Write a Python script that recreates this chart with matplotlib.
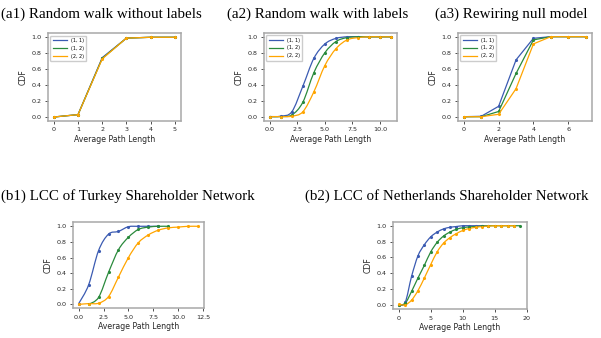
import matplotlib
matplotlib.use("Agg")
import matplotlib.pyplot as plt
from matplotlib.path import Path
from matplotlib.patches import PathPatch
from matplotlib.lines import Line2D
import numpy as np

#---------------- datos ------------
etiquetas = ["(1, 1)", "(1, 2)", "(2, 2)"]
colores = ["#3b5bb2", "#2a8a3c", "#ffa500"]

titulos = ["(a1) Random walk without labels", "(a2) Random walk with labels",
           "(a3) Rewiring null model", "(b1) LCC of Turkey Shareholder Network",
           "(b2) LCC of Netherlands Shareholder Network"]

# (a1) random walk sin etiquetas
a1_x = [0, 1, 2, 3, 4, 5]
a1_11 = [0.0, 0.03, 0.745, 0.99, 1.0, 1.0]
a1_12 = [0.0, 0.03, 0.735, 0.99, 1.0, 1.0]
a1_22 = [0.0, 0.03, 0.73, 0.99, 1.0, 1.0]

# (a2) random walk con etiquetas
a2_x = [0, 1, 2, 3, 4, 5, 6, 7, 8, 9, 10, 11]
a2_11 = [0.0, 0.005, 0.06, 0.38, 0.73, 0.91, 0.98, 1.0, 1.0, 1.0, 1.0, 1.0]
a2_12 = [0.0, 0.0, 0.02, 0.18, 0.55, 0.80, 0.94, 0.99, 1.0, 1.0, 1.0, 1.0]
a2_22 = [0.0, 0.0, 0.005, 0.06, 0.31, 0.64, 0.85, 0.96, 0.99, 1.0, 1.0, 1.0]

# (a3) rewiring
a3_x = [0, 1, 2, 3, 4, 5, 6, 7]
a3_11 = [0.0, 0.005, 0.13, 0.71, 0.98, 1.0, 1.0, 1.0]
a3_12 = [0.0, 0.0, 0.065, 0.54, 0.96, 1.0, 1.0, 1.0]
a3_22 = [0.0, 0.0, 0.03, 0.35, 0.91, 1.0, 1.0, 1.0]

# (b1) Turquia
b1_x11 = [0, 1, 2, 3, 4, 5, 6, 7, 8]
b1_11 = [0.01, 0.25, 0.69, 0.90, 0.935, 0.995, 1.0, 1.0, 1.0]
b1_x12 = [1, 2, 3, 4, 5, 6, 7, 8, 9]
b1_12 = [0.0, 0.09, 0.41, 0.70, 0.86, 0.96, 0.99, 1.0, 1.0]
b1_x22 = [0, 1, 2, 3, 4, 5, 6, 7, 8, 9, 10, 11, 12]
b1_22 = [0.0, 0.01, 0.015, 0.10, 0.35, 0.60, 0.79, 0.89, 0.95, 0.98, 0.99, 1.0, 1.0]

# (b2) Paises Bajos
b2_x11 = list(range(0, 15))
b2_11 = [0.0, 0.03, 0.36, 0.62, 0.76, 0.86, 0.92, 0.96, 0.98, 0.99, 1.0, 1.0, 1.0, 1.0, 1.0]
b2_x12 = list(range(0, 20))
b2_12 = [0.0, 0.02, 0.17, 0.34, 0.50, 0.67, 0.79, 0.87, 0.92, 0.955, 0.975, 0.985, 0.99,
         0.995, 1.0, 1.0, 1.0, 1.0, 1.0, 1.0]
b2_x22 = list(range(0, 19))
b2_22 = [0.01, 0.0, 0.06, 0.18, 0.34, 0.51, 0.67, 0.78, 0.85, 0.90, 0.94, 0.965, 0.98,
         0.99, 0.995, 1.0, 1.0, 1.0, 1.0]

plt.rcParams['font.family'] = ['DejaVu Sans']


#---------------- funciones ------------
def curva_suave(ax, x, y, color):
    # curva Catmull-Rom dibujada como bezier a traves de los puntos
    p = np.column_stack([x, y]).astype(float)
    n = len(p)
    verts = [p[0]]
    codes = [Path.MOVETO]
    for i in range(n - 1):
        p0 = p[i - 1] if i > 0 else p[i]
        p3 = p[i + 2] if i + 2 < n else p[i + 1]
        c1 = p[i] + (p[i + 1] - p0) / 6.0
        c2 = p[i + 1] - (p3 - p[i]) / 6.0
        verts += [c1, c2, p[i + 1]]
        codes += [Path.CURVE4] * 3
    patch = PathPatch(Path(verts, codes), facecolor="none", edgecolor=color, lw=0.9)
    ax.add_patch(patch)
    ax.plot(x, y, linestyle="none", marker=".", markersize=2.5, color=color)


def estilo(ax):
    for s in ax.spines.values():
        s.set_color("#a8a8a8")
        s.set_linewidth(1.1)
    ax.tick_params(labelsize=4.6, length=2.5, width=0.6, color="#333333",
                   labelcolor="#262626", pad=2)
    ax.set_xlabel("Average Path Length", fontsize=5.6, labelpad=2, color="#262626")
    ax.set_ylabel("CDF", fontsize=5.6, labelpad=3, color="#262626")
    ax.set_yticks([0.0, 0.2, 0.4, 0.6, 0.8, 1.0])


def leyenda(ax):
    handles = [Line2D([], [], color=c, lw=0.9) for c in colores]
    ax.legend(handles, etiquetas, loc="upper left", fontsize=3.5, handlelength=3,
              borderpad=0.5, labelspacing=0.6, framealpha=1, edgecolor="#cccccc",
              fancybox=True)


fig = plt.figure(figsize=(6.01, 3.38), dpi=100)

ax1 = fig.add_axes([0.0794, 0.642, 0.2218, 0.2595])
for y, c in zip([a1_11, a1_12, a1_22], colores):
    ax1.plot(a1_x, y, color=c, lw=0.9, marker=".", markersize=2.5)
estilo(ax1)
leyenda(ax1)

ax2 = fig.add_axes([0.4388, 0.6429, 0.2218, 0.2604])
for y, c in zip([a2_11, a2_12, a2_22], colores):
    curva_suave(ax2, a2_x, y, c)
ax2.set_xticks([0.0, 2.5, 5.0, 7.5, 10.0])
estilo(ax2)
leyenda(ax2)

ax3 = fig.add_axes([0.7616, 0.6429, 0.223, 0.2604])
for y, c in zip([a3_11, a3_12, a3_22], colores):
    ax3.plot(a3_x, y, color=c, lw=0.9, marker=".", markersize=2.5)
ax3.set_xticks([0, 2, 4, 6])
estilo(ax3)
leyenda(ax3)

ax4 = fig.add_axes([0.121, 0.0879, 0.2185, 0.2544])
for x, y, c in zip([b1_x11, b1_x12, b1_x22], [b1_11, b1_12, b1_22], colores):
    curva_suave(ax4, x, y, c)
ax4.set_xticks([0.0, 2.5, 5.0, 7.5, 10.0, 12.5])
estilo(ax4)

ax5 = fig.add_axes([0.6534, 0.0849, 0.223, 0.2592])
for x, y, c in zip([b2_x11, b2_x12, b2_x22], [b2_11, b2_12, b2_22], colores):
    curva_suave(ax5, x, y, c)
ax5.set_xticks([0, 5, 10, 15, 20])
estilo(ax5)

# titulos tipo subfigura
serif = ["Liberation Serif", "DejaVu Serif"]
pos_titulos = [(0.002, 0.946), (0.378, 0.946), (0.724, 0.946), (0.002, 0.408), (0.507, 0.408)]
for t, (px, py) in zip(titulos, pos_titulos):
    fig.text(px, py, t, family=serif, fontsize=10.8, ha="left", va="baseline")

fig.savefig("out.png", dpi=100)
